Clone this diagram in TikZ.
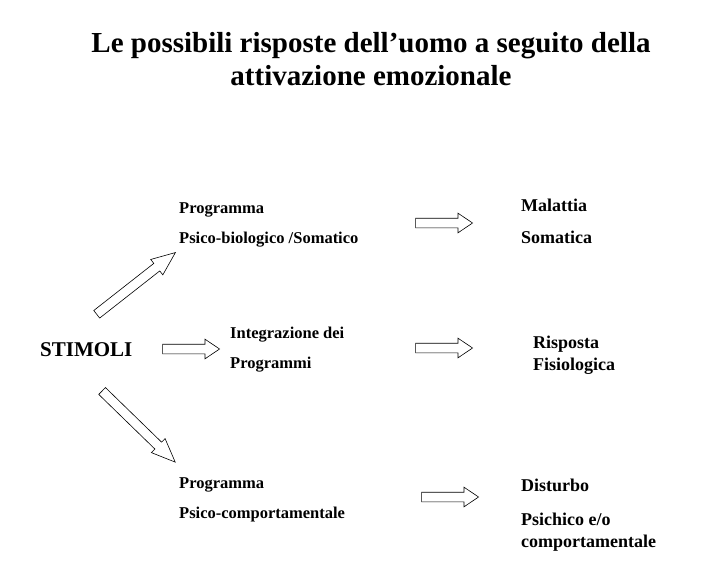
\documentclass[tikz,border=0pt]{standalone}
\usepackage{fontspec}
\setmainfont{Liberation Serif}
\usepackage{tikz}
\usetikzlibrary{shapes.arrows,calc}

\begin{document}
\begin{tikzpicture}[x=1pt,y=-1pt,
    txt/.style={anchor=base west, inner sep=0pt, font=\bfseries\fontsize{16.5}{30}\selectfont, align=left},
    res/.style={anchor=base west, inner sep=0pt, font=\bfseries\fontsize{18}{22}\selectfont, align=left},
    blockarrow/.style={draw, line width=0.6pt, single arrow, single arrow head extend=5pt,
        single arrow head indent=0pt, inner sep=0pt, text height=9pt, text depth=0pt,
        minimum width=0pt, single arrow tip angle=68, sloped, anchor=center},
    diagarrow/.style={blockarrow, single arrow tip angle=45}]
    \useasboundingbox (0,0) rectangle (721,584);

    % Title
    \node[anchor=base, inner sep=0pt, align=center, font=\bfseries\fontsize{29}{33}\selectfont]
        (title) at (371,85) {Le possibili risposte dell’uomo a seguito della\\attivazione emozionale};

    % Stimuli and programmes
    \node[anchor=base west, inner sep=0pt, font=\bfseries\fontsize{21}{25}\selectfont] (stimoli) at (40,356) {STIMOLI};
    \node[txt] (progbio) at (179,243) {Programma\\Psico-biologico /Somatico};
    \node[txt] (integr) at (230,368) {Integrazione dei\\Programmi};
    \node[txt] (progcomp) at (179,518) {Programma\\Psico-comportamentale};

    % Responses
    \node[res, font=\bfseries\fontsize{18}{32}\selectfont] (malattia) at (521,243) {Malattia\\Somatica};
    \node[res] (risposta) at (533,370) {Risposta\\Fisiologica};
    \node[res] (disturbo) at (521,491) {Disturbo};
    \node[res] (psichico) at (521,547) {Psichico e/o\\comportamentale};

    % Block arrows
    \coordinate (upA) at (92,318);   \coordinate (upB) at (171,256);
    \coordinate (dnA) at (98,387);   \coordinate (dnB) at (171,458);
    \coordinate (mdA) at (159,349);  \coordinate (mdB) at (216,349);
    \coordinate (r1A) at (412,223);  \coordinate (r1B) at (469,223);
    \coordinate (r2A) at (412,348);  \coordinate (r2B) at (469,348);
    \coordinate (r3A) at (418,497);  \coordinate (r3B) at (475,497);

    \path (upA) -- node[diagarrow, minimum height=100] {} (upB);
    \path (dnA) -- node[diagarrow, minimum height=102] {} (dnB);
    \path (mdA) -- node[blockarrow, minimum height=57] {} (mdB);
    \path (r1A) -- node[blockarrow, minimum height=57] {} (r1B);
    \path (r2A) -- node[blockarrow, minimum height=57] {} (r2B);
    \path (r3A) -- node[blockarrow, minimum height=57] {} (r3B);
\end{tikzpicture}
\end{document}
